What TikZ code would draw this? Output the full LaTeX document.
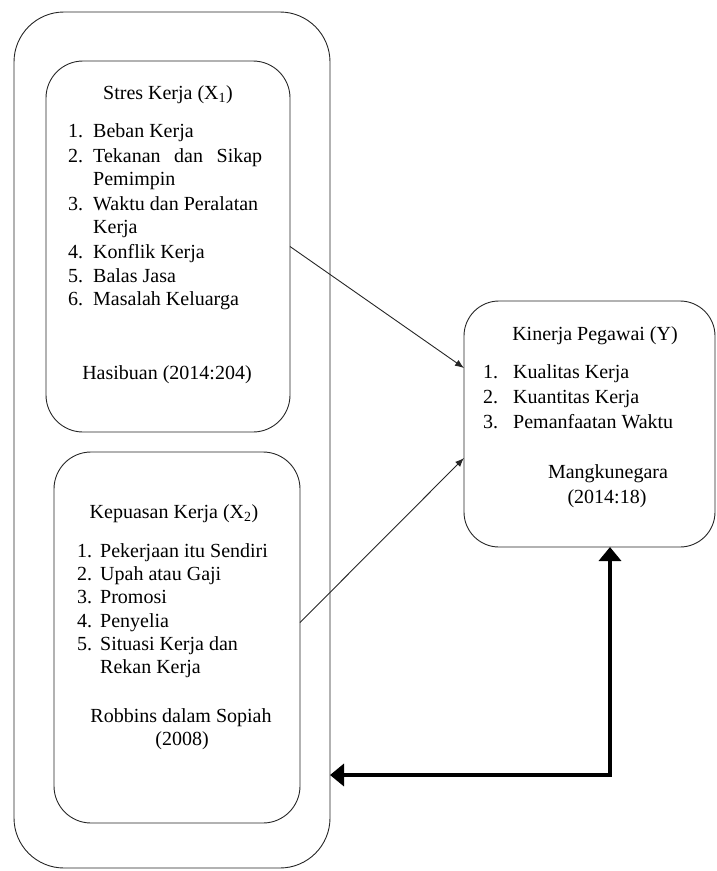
\documentclass[tikz,border=0pt]{standalone}
\usepackage{fontspec}
\setmainfont{Liberation Serif}
\usetikzlibrary{arrows.meta,calc}
\begin{document}
\begin{tikzpicture}[x=1pt,y=-1pt,
  box/.style={draw=black!85, line width=0.9pt, inner sep=0pt, outer sep=0pt},
  txt/.style={inner sep=0pt, font=\fontsize{20}{24}\selectfont, text=black},
  lab/.style={txt, anchor=base west},
  ttl/.style={txt, anchor=base},
  thinarrow/.style={draw=black!85, line width=0.9pt, -{Latex[length=9pt,width=7pt]}},
  bigarrow/.style={draw=black, line width=4pt, line join=miter, {Triangle[length=14pt,width=22pt]}-{Triangle[length=14pt,width=22pt]}}
]
\useasboundingbox (0,0) rectangle (717,871);
% boxes
\node[box, rounded corners=50pt, minimum width=316pt, minimum height=856pt] (outer) at (172,440) {};
\node[box, rounded corners=37pt, minimum width=244pt, minimum height=371pt] (box1) at (168,246.5) {};
\node[box, rounded corners=37pt, minimum width=246pt, minimum height=371pt] (box2) at (177,637.5) {};
\node[box, rounded corners=35pt, minimum width=251pt, minimum height=246pt] (boxY) at (589.5,424) {};
% box 1 text
\node[ttl] (t1) at (168,99) {Stres Kerja (X\textsubscript{1})};
\foreach \n/\y in {1/137,2/162,3/210,4/258,5/282,6/305}
  \node[lab] (n1\n) at (68,\y) {\n.};
\node[lab] (a11) at (93,137) {Beban Kerja};
\node[lab] (a12) at (93,162) {\makebox[169pt][s]{Tekanan dan Sikap}};
\node[lab] (a12b) at (93,185) {Pemimpin};
\node[lab] (a13) at (93,210) {Waktu dan Peralatan};
\node[lab] (a13b) at (93,233) {Kerja};
\node[lab] (a14) at (93,258) {Konflik Kerja};
\node[lab] (a15) at (93,282) {Balas Jasa};
\node[lab] (a16) at (93,305) {Masalah Keluarga};
\node[ttl] (r1) at (167,379) {Hasibuan (2014:204)};
% box 2 text
\node[ttl] (t2) at (174,518) {Kepuasan Kerja (X\textsubscript{2})};
\foreach \n/\y in {1/557,2/580,3/603,4/627,5/650}
  \node[lab] (n2\n) at (77,\y) {\n.};
\node[lab] (a21) at (100,557) {Pekerjaan itu Sendiri};
\node[lab] (a22) at (100,580) {Upah atau Gaji};
\node[lab] (a23) at (100,603) {Promosi};
\node[lab] (a24) at (100,627) {Penyelia};
\node[lab] (a25) at (100,650) {Situasi Kerja dan};
\node[lab] (a25b) at (100,673) {Rekan Kerja};
\node[ttl] (r2) at (181,722) {Robbins dalam Sopiah};
\node[ttl] (r2b) at (182,745) {(2008)};
% box Y text
\node[ttl] (tY) at (595,340) {Kinerja Pegawai (Y)};
\foreach \n/\y in {1/378,2/403,3/428}
  \node[lab] (nY\n) at (483,\y) {\n.};
\node[lab] (aY1) at (513,378) {Kualitas Kerja};
\node[lab] (aY2) at (513,403) {Kuantitas Kerja};
\node[lab] (aY3) at (513,428) {Pemanfaatan Waktu};
\node[ttl] (rY) at (608,478) {Mangkunegara};
\node[ttl] (rYb) at (607,503) {(2014:18)};
% connectors
\draw[thinarrow] (box1.east) -- ([yshift=56pt]boxY.west);
\draw[thinarrow] ([yshift=15pt]box2.east) -- ([yshift=-34pt]boxY.west);
\coordinate (turn) at (610,775);
\draw[bigarrow] ([xshift=20.5pt]boxY.south) -- (turn) -- (outer.east |- turn);
\end{tikzpicture}
\end{document}
